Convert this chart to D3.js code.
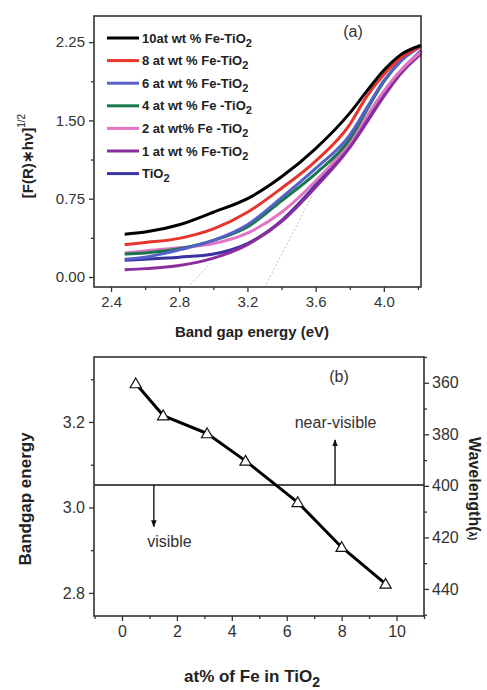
<!DOCTYPE html>
<html>
<head>
<meta charset="utf-8">
<script src="https://cdn.jsdelivr.net/npm/d3@7"></script>
<style>
 body{margin:0;background:#fff;}
 svg{display:block;font-family:"Liberation Sans",Arial,Helvetica,sans-serif;}
 .tick text{fill:#333;}
</style>
</head>
<body>
<div id="chart"></div>
<script>
// ---- panel (a) data ----
var energy = [2.48, 2.6, 2.8, 3.0, 3.2, 3.4, 3.6, 3.8, 3.9, 4.0, 4.1, 4.22];
var fe10  = [0.41, 0.43, 0.50, 0.62, 0.75, 0.96, 1.23, 1.57, 1.78, 1.98, 2.13, 2.22];
var fe8   = [0.31, 0.33, 0.37, 0.46, 0.62, 0.85, 1.11, 1.46, 1.73, 1.94, 2.10, 2.21];
var fe6   = [0.17, 0.19, 0.26, 0.35, 0.50, 0.76, 1.04, 1.36, 1.62, 1.88, 2.07, 2.21];
var fe4   = [0.22, 0.23, 0.27, 0.35, 0.48, 0.73, 0.99, 1.32, 1.60, 1.87, 2.07, 2.22];
var fe2   = [0.23, 0.25, 0.28, 0.32, 0.42, 0.62, 0.92, 1.29, 1.54, 1.78, 1.98, 2.16];
var fe1   = [0.07, 0.08, 0.11, 0.18, 0.31, 0.53, 0.86, 1.24, 1.48, 1.73, 1.95, 2.14];
var tio2  = [0.16, 0.17, 0.19, 0.22, 0.32, 0.54, 0.88, 1.28, 1.50, 1.75, 1.97, 2.17];
var seriesNames = ["10at wt % Fe-TiO", "8 at wt % Fe-TiO", "6 at wt % Fe-TiO", "4 at wt % Fe -TiO", "2 at wt% Fe -TiO", "1 at wt % Fe-TiO", "TiO"];
var seriesColors = ["#000000", "#e8352b", "#5560c8", "#17794a", "#e274c4", "#8b2d9c", "#3a31a3"];
var seriesValues = [fe10, fe8, fe6, fe4, fe2, fe1, tio2];
var tangent1 = [[2.85, -0.1], [3.05, 0.25]];
var tangent2 = [[3.30, -0.1], [3.58, 0.78]];
var topXTicks = [2.4, 2.8, 3.2, 3.6, 4.0];
var topXMinor = [2.6, 3.0, 3.4, 3.8, 4.2];
var topYTicks = [0, 0.75, 1.5, 2.25];
var topYMinor = [0.375, 1.125, 1.875];

// ---- panel (b) data ----
var atPct   = [0.5, 1.5, 3.1, 4.5, 6.4, 8.0, 9.6];
var bandgap = [3.29, 3.215, 3.173, 3.109, 3.012, 2.907, 2.821];
var visLimit = 3.0525;          // 400 nm line
var botXTicks = [0, 2, 4, 6, 8, 10];
var botXMinor = [-1, 1, 3, 5, 7, 9, 11];
var botYTicks = [2.8, 3.0, 3.2];
var botYMinor = [2.9, 3.1, 3.3];
var waveTicks = [360, 380, 400, 420, 440];
var waveMinor = [350, 370, 390, 410, 430, 450];

var W = 487, H = 690;
var svg = d3.select("#chart").append("svg").attr("width", W).attr("height", H);
svg.append("rect").attr("width", W).attr("height", H).attr("fill", "#fff");

function styleAxis(g, fs){
 g.selectAll(".domain").remove();
 g.selectAll(".tick line").attr("stroke", "#333").attr("stroke-width", 1.3);
 g.selectAll(".tick text").style("font-size", fs + "px");
}

// =============== panel (a) ===============
var ax = d3.scaleLinear().domain([2.3, 4.218]).range([94, 421]);
var ay = d3.scaleLinear().domain([-0.096, 2.50]).range([287, 16]);

// tangent (extrapolation) lines
[tangent1, tangent2].forEach(function(t){
 svg.append("line")
  .attr("x1", ax(t[0][0])).attr("y1", ay(t[0][1]))
  .attr("x2", ax(t[1][0])).attr("y2", ay(t[1][1]))
  .attr("stroke", "#b8b8b8").attr("stroke-width", 0.9).attr("stroke-dasharray", "2,2");
});

var lineA = d3.line()
 .x(function(d){ return ax(d[0]); })
 .y(function(d){ return ay(d[1]); })
 .curve(d3.curveMonotoneX);

// draw bottom-most first so the upper curves sit on top
var drawOrder = [6, 5, 4, 3, 2, 1, 0];
drawOrder.forEach(function(i){
 var pts = energy.map(function(e, k){ return [e, seriesValues[i][k]]; });
 svg.append("path").datum(pts)
  .attr("d", lineA)
  .attr("fill", "none")
  .attr("stroke", seriesColors[i])
  .attr("stroke-width", 3)
  .attr("stroke-linejoin", "round");
});

// axes
var gxA = svg.append("g").attr("transform", "translate(0,287)")
 .call(d3.axisBottom(ax).tickValues(topXTicks).tickSize(5).tickPadding(4).tickFormat(d3.format(".1f")));
styleAxis(gxA, 15);
svg.append("g").attr("transform", "translate(0,287)")
 .call(d3.axisBottom(ax).tickValues(topXMinor).tickSize(3).tickFormat(""))
 .call(function(g){ styleAxis(g, 15); });

var gyA = svg.append("g").attr("transform", "translate(94,0)")
 .call(d3.axisLeft(ay).tickValues(topYTicks).tickSize(5).tickPadding(4).tickFormat(d3.format(".2f")));
styleAxis(gyA, 15);
svg.append("g").attr("transform", "translate(94,0)")
 .call(d3.axisLeft(ay).tickValues(topYMinor).tickSize(3).tickFormat(""))
 .call(function(g){ styleAxis(g, 15); });

svg.append("rect").attr("x", 94).attr("y", 16).attr("width", 421 - 94).attr("height", 287 - 16)
 .attr("fill", "none").attr("stroke", "#333").attr("stroke-width", 1.6);

// legend
seriesNames.forEach(function(name, i){
 var y = 38 + i * 22.6;
 svg.append("line").attr("x1", 107).attr("x2", 139).attr("y1", y).attr("y2", y)
  .attr("stroke", seriesColors[i]).attr("stroke-width", 3);
 var t = svg.append("text").attr("x", 142).attr("y", y + 4.5)
  .style("font-size", "13px").style("font-weight", "bold").attr("fill", "#222");
 t.append("tspan").text(name);
 t.append("tspan").attr("dy", 4).style("font-size", "11px").text("2");
});

svg.append("text").attr("x", 353).attr("y", 37).attr("text-anchor", "middle")
 .style("font-size", "16px").attr("fill", "#333").text("(a)");

svg.append("text").attr("x", 252).attr("y", 337).attr("text-anchor", "middle")
 .style("font-size", "15px").style("font-weight", "bold").attr("fill", "#222")
 .text("Band gap energy (eV)");

var ylabA = svg.append("text").attr("transform", "translate(33,156) rotate(-90)")
 .attr("text-anchor", "middle").style("font-size", "15px").style("font-weight", "bold").attr("fill", "#222");
ylabA.append("tspan").text("[F(R)\u2217h\u03bd]");
ylabA.append("tspan").attr("dy", -8).style("font-size", "10px").style("font-weight", "normal").text("1/2");

// =============== panel (b) ===============
var bx = d3.scaleLinear().domain([-1.02, 11]).range([94, 424]);
var by = d3.scaleLinear().domain([2.746, 3.352]).range([616, 357]);
var bw = d3.scaleLinear().domain([350, 450.5]).range([357, 616]);

// visible limit line and arrows
svg.append("line").attr("x1", 94).attr("x2", 424).attr("y1", by(visLimit)).attr("y2", by(visLimit))
 .attr("stroke", "#111").attr("stroke-width", 1.6);

svg.append("defs").append("marker").attr("id", "arr")
 .attr("viewBox", "0 0 10 10").attr("refX", 9).attr("refY", 5)
 .attr("markerWidth", 5).attr("markerHeight", 6).attr("orient", "auto")
 .append("path").attr("d", "M0,1 L10,5 L0,9 Z").attr("fill", "#111");

svg.append("line").attr("x1", bx(7.76)).attr("x2", bx(7.76))
 .attr("y1", by(visLimit)).attr("y2", by(3.158))
 .attr("stroke", "#111").attr("stroke-width", 1.4).attr("marker-end", "url(#arr)");
svg.append("line").attr("x1", bx(1.16)).attr("x2", bx(1.16))
 .attr("y1", by(visLimit)).attr("y2", by(2.955))
 .attr("stroke", "#111").attr("stroke-width", 1.4).attr("marker-end", "url(#arr)");

svg.append("text").attr("x", bx(7.78)).attr("y", by(3.2) + 6).attr("text-anchor", "middle")
 .style("font-size", "16px").attr("fill", "#333").text("near-visible");
svg.append("text").attr("x", bx(1.73)).attr("y", by(2.922) + 6).attr("text-anchor", "middle")
 .style("font-size", "16px").attr("fill", "#333").text("visible");

var lineB = d3.line().x(function(d){ return bx(d[0]); }).y(function(d){ return by(d[1]); });
var ptsB = atPct.map(function(a, k){ return [a, bandgap[k]]; });
svg.append("path").datum(ptsB).attr("d", lineB).attr("fill", "none")
 .attr("stroke", "#000").attr("stroke-width", 3).attr("stroke-linejoin", "round");

svg.selectAll(".tri").data(ptsB).enter().append("path")
 .attr("class", "tri")
 .attr("d", d3.symbol().type(d3.symbolTriangle).size(55))
 .attr("transform", function(d){ return "translate(" + bx(d[0]) + "," + (by(d[1]) + 1) + ")"; })
 .attr("fill", "#fff").attr("stroke", "#111").attr("stroke-width", 1.2);

var gxB = svg.append("g").attr("transform", "translate(0,616)")
 .call(d3.axisBottom(bx).tickValues(botXTicks).tickSize(5).tickPadding(5).tickFormat(d3.format("d")));
styleAxis(gxB, 16);
svg.append("g").attr("transform", "translate(0,616)")
 .call(d3.axisBottom(bx).tickValues(botXMinor).tickSize(3).tickFormat(""))
 .call(function(g){ styleAxis(g, 16); });

var gyB = svg.append("g").attr("transform", "translate(94,0)")
 .call(d3.axisLeft(by).tickValues(botYTicks).tickSize(5).tickPadding(4).tickFormat(d3.format(".1f")));
styleAxis(gyB, 16);
svg.append("g").attr("transform", "translate(94,0)")
 .call(d3.axisLeft(by).tickValues(botYMinor).tickSize(3).tickFormat(""))
 .call(function(g){ styleAxis(g, 16); });

var gwB = svg.append("g").attr("transform", "translate(424,0)")
 .call(d3.axisRight(bw).tickValues(waveTicks).tickSize(5).tickPadding(3).tickFormat(d3.format("d")));
styleAxis(gwB, 16);
svg.append("g").attr("transform", "translate(424,0)")
 .call(d3.axisRight(bw).tickValues(waveMinor).tickSize(3).tickFormat(""))
 .call(function(g){ styleAxis(g, 16); });

svg.append("rect").attr("x", 94).attr("y", 357).attr("width", 424 - 94).attr("height", 616 - 357)
 .attr("fill", "none").attr("stroke", "#333").attr("stroke-width", 1.6);

svg.append("text").attr("x", 339).attr("y", 382).attr("text-anchor", "middle")
 .style("font-size", "16px").attr("fill", "#333").text("(b)");

var xlabB = svg.append("text").attr("x", 252).attr("y", 682).attr("text-anchor", "middle")
 .style("font-size", "17px").style("font-weight", "bold").attr("fill", "#222");
xlabB.append("tspan").text("at% of Fe in TiO");
xlabB.append("tspan").attr("dy", 5).style("font-size", "14px").text("2");

svg.append("text").attr("transform", "translate(31,499) rotate(-90)").attr("text-anchor", "middle")
 .style("font-size", "17px").style("font-weight", "bold").attr("fill", "#222").text("Bandgap energy");

var ylabR = svg.append("text").attr("transform", "translate(469,437) rotate(90)").attr("text-anchor", "start")
 .style("font-size", "16px").style("font-weight", "bold").attr("fill", "#222");
ylabR.append("tspan").text("Wavelength(");
ylabR.append("tspan").style("font-size", "10px").text("\u03bb");
ylabR.append("tspan").style("font-size", "10px").text(")");
</script>
</body>
</html>
